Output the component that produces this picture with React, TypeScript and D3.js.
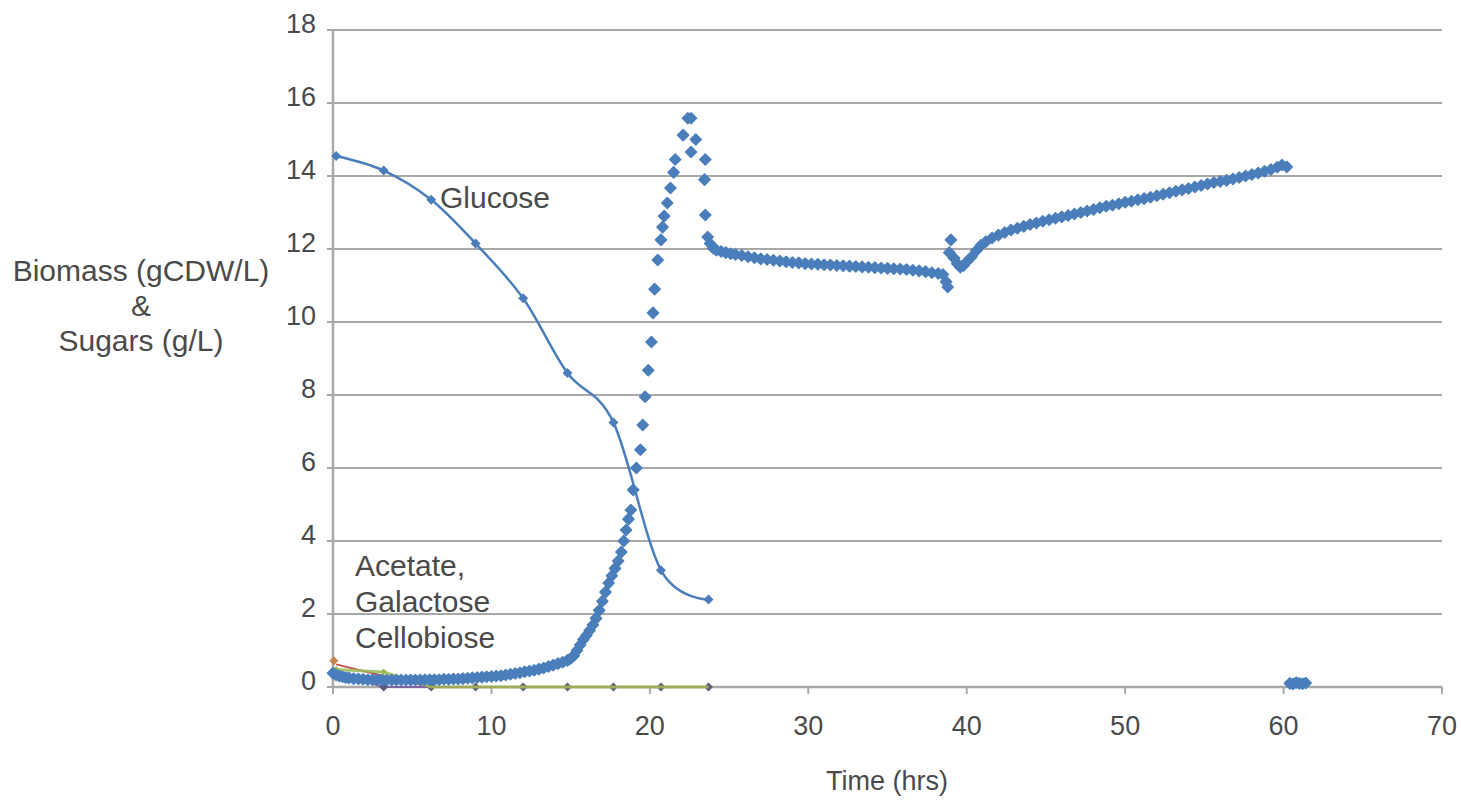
import React from "react";
import * as d3 from "d3";

// ---- data ----
const sampleTimes = [0.2, 3.2, 6.2, 9.0, 12.0, 14.8, 17.7, 20.7, 23.7];
const glucose = [14.55, 14.15, 13.35, 12.15, 10.65, 8.6, 7.25, 3.2, 2.4];
const acetate = [0.62, 0.3, 0, 0, 0, 0, 0, 0, 0];
const galactose = [0.48, 0.41, 0, 0, 0, 0, 0, 0, 0];
const cellobiose = [0.38, 0, 0, 0, 0, 0, 0, 0, 0];
const acetateStart = [0.05, 0.72];

const biomassTimes = [
  0.0, 0.2, 0.4, 0.6, 0.8, 1.0, 1.3, 1.6, 1.9, 2.2, 2.5, 2.8, 3.1, 3.4, 3.7, 4.0, 4.3, 4.6, 4.9, 5.2,
  5.5, 5.8, 6.1, 6.4, 6.7, 7.0, 7.3, 7.6, 7.9, 8.2, 8.5, 8.8, 9.1, 9.4, 9.7, 10.0, 10.3, 10.6, 10.9, 11.2,
  11.5, 11.8, 12.1, 12.4, 12.7, 13.0, 13.3, 13.6, 13.9, 14.2, 14.5, 14.8, 15.0, 15.2, 15.4, 15.6, 15.8, 16.0, 16.2, 16.4,
  16.6, 16.8, 17.0, 17.2, 17.4, 17.6, 17.8, 18.0, 18.2, 18.35, 18.5, 18.65, 18.8, 18.95, 19.15, 19.4, 19.55, 19.7, 19.9, 20.1,
  20.2, 20.3, 20.5, 20.7, 20.8, 20.9, 21.1, 21.3, 21.5, 21.6, 22.1, 22.4, 22.6, 22.6, 22.9, 23.45, 23.5, 23.5, 23.65, 23.8,
  24.0, 24.2, 24.5, 24.8, 25.1, 25.4, 25.8, 26.2, 26.6, 27.0, 27.4, 27.8, 28.2, 28.6, 29.0, 29.4, 29.8, 30.2, 30.6, 31.0,
  31.4, 31.8, 32.2, 32.6, 33.0, 33.4, 33.8, 34.2, 34.6, 35.0, 35.4, 35.8, 36.2, 36.6, 37.0, 37.4, 37.8, 38.2, 38.5, 38.7,
  38.8, 38.9, 39.0, 39.2, 39.4, 39.6, 39.8, 40.0, 40.3, 40.6, 40.9, 41.2, 41.6, 42.0, 42.4, 42.8, 43.2, 43.6, 44.0, 44.4,
  44.8, 45.2, 45.6, 46.0, 46.4, 46.8, 47.2, 47.6, 48.0, 48.4, 48.8, 49.2, 49.6, 50.0, 50.4, 50.8, 51.2, 51.6, 52.0, 52.4,
  52.8, 53.2, 53.6, 54.0, 54.4, 54.8, 55.2, 55.6, 56.0, 56.4, 56.8, 57.2, 57.6, 58.0, 58.4, 58.8, 59.2, 59.6, 59.9, 60.2,
  60.4, 60.6, 60.8, 61.0, 61.2, 61.4,
];
const biomass = [
  0.38, 0.33, 0.3, 0.28, 0.26, 0.25, 0.23, 0.22, 0.21, 0.2, 0.2, 0.2, 0.19, 0.19, 0.19, 0.19, 0.19, 0.19, 0.19, 0.19,
  0.19, 0.2, 0.2, 0.2, 0.2, 0.21, 0.21, 0.22, 0.22, 0.23, 0.24, 0.25, 0.26, 0.27, 0.28, 0.29, 0.3, 0.31, 0.33, 0.35,
  0.37, 0.39, 0.42, 0.44, 0.46, 0.49, 0.52, 0.56, 0.6, 0.64, 0.68, 0.73, 0.78, 0.86, 1.0, 1.15, 1.3, 1.42, 1.55, 1.7,
  1.88, 2.1, 2.35, 2.6, 2.85, 3.05, 3.25, 3.45, 3.7, 4.0, 4.3, 4.6, 4.85, 5.4, 6.0, 6.5, 7.18, 7.95, 8.68, 9.45,
  10.25, 10.9, 11.7, 12.25, 12.6, 12.9, 13.26, 13.67, 14.1, 14.45, 15.12, 15.58, 15.58, 14.66, 15.0, 13.9, 14.45, 12.93, 12.33, 12.15,
  12.02, 11.97, 11.93, 11.9, 11.87, 11.85, 11.82, 11.79, 11.76, 11.73, 11.71, 11.69, 11.67, 11.65, 11.63, 11.62, 11.6, 11.59, 11.58, 11.57,
  11.56, 11.55, 11.54, 11.53, 11.52, 11.51, 11.5, 11.49, 11.48, 11.47, 11.46, 11.45, 11.44, 11.42, 11.4, 11.38, 11.35, 11.33, 11.3, 11.1,
  10.96, 11.9, 12.25, 11.75, 11.6, 11.5, 11.55, 11.65, 11.78, 11.95, 12.1, 12.2, 12.3, 12.38, 12.45, 12.52, 12.57, 12.62, 12.67, 12.71,
  12.76, 12.8, 12.84, 12.88, 12.92, 12.96, 13.0, 13.04, 13.08, 13.13, 13.17, 13.2, 13.24, 13.28, 13.31, 13.35, 13.38, 13.42, 13.46, 13.5,
  13.54, 13.58, 13.62, 13.66, 13.7, 13.74, 13.78, 13.82, 13.85, 13.88, 13.92, 13.96, 14.0, 14.04, 14.08, 14.13, 14.18, 14.24, 14.3, 14.25,
  0.1, 0.08, 0.12, 0.1, 0.09, 0.11,
];

const xTicks = [0, 10, 20, 30, 40, 50, 60, 70];
const yTicks = [0, 2, 4, 6, 8, 10, 12, 14, 16, 18];
const yLabelLines = ["Biomass (gCDW/L)", "&", "Sugars (g/L)"];
const sugarLabelLines = ["Acetate,", "Galactose", "Cellobiose"];

// ---- layout ----
const W = 1461;
const H = 808;
const left = 333;
const right = 1442;
const top = 30;
const bottom = 687;

const BLUE = "#4a7ebb";
const RED = "#c0504d";
const GREEN = "#9bbb59";
const PURPLE = "#8064a2";
const TEXT = "#4a4a4a";
const GRID = "#a8a8a8";
const FONT = "'Liberation Sans', Arial, sans-serif";

const diamond = (r: number) => `M0,${-r}L${r},0L0,${r}L${-r},0Z`;

export default function App() {
  const x = d3.scaleLinear().domain([0, 70]).range([left, right]);
  const y = d3.scaleLinear().domain([0, 18]).range([bottom, top]);

  const glucoseLine = d3
    .line<number>()
    .x((_, i) => x(sampleTimes[i]))
    .y((d) => y(d))
    .curve(d3.curveCardinal.tension(0));

  const straight = (vals: number[]) =>
    d3
      .line<number>()
      .x((_, i) => x(sampleTimes[i]))
      .y((d) => y(d))(vals) || "";

  return (
    <svg
      width={W}
      height={H}
      style={{ position: "absolute", left: 0, top: 0, background: "#fff" }}
      fontFamily={FONT}
    >
      {/* grid lines */}
      {yTicks.map((t) => (
        <line key={"g" + t} x1={left} x2={right} y1={y(t)} y2={y(t)} stroke={GRID} strokeWidth={2} />
      ))}
      {/* y axis */}
      <line x1={left} x2={left} y1={top} y2={bottom} stroke={GRID} strokeWidth={2.5} />
      {yTicks.map((t) => (
        <line key={"yt" + t} x1={left - 6} x2={left} y1={y(t)} y2={y(t)} stroke={GRID} strokeWidth={2} />
      ))}
      {yTicks.map((t) => (
        <text key={"yl" + t} x={316} y={y(t) + 3} textAnchor="end" fontSize={27} fill={TEXT}>
          {t}
        </text>
      ))}
      {/* x axis */}
      <line x1={left} x2={right} y1={bottom} y2={bottom} stroke={GRID} strokeWidth={2.5} />
      {xTicks.map((t) => (
        <line key={"xt" + t} x1={x(t)} x2={x(t)} y1={bottom} y2={bottom + 7} stroke={GRID} strokeWidth={2} />
      ))}
      {xTicks.map((t) => (
        <text key={"xl" + t} x={x(t)} y={735} textAnchor="middle" fontSize={27} fill={TEXT}>
          {t}
        </text>
      ))}

      {/* minor sugars */}
      <path d={straight(cellobiose)} fill="none" stroke={PURPLE} strokeWidth={2} />
      {sampleTimes.map((t, i) => (
        <path key={"cb" + i} d={diamond(4.5)} transform={`translate(${x(t)},${y(cellobiose[i])})`} fill="#5a5e7c" />
      ))}
      <path d={straight(acetate)} fill="none" stroke={RED} strokeWidth={2} />
      <path d={straight(galactose)} fill="none" stroke={GREEN} strokeWidth={3} opacity={0.85} />
      {sampleTimes.map((t, i) =>
        i < 2 ? (
          <path key={"ga" + i} d={diamond(3.5)} transform={`translate(${x(t)},${y(galactose[i])})`} fill={GREEN} />
        ) : null
      )}
      <path d={diamond(4.5)} transform={`translate(${x(acetateStart[0])},${y(acetateStart[1])})`} fill="#c8804d" />

      {/* glucose */}
      <path d={glucoseLine(glucose) || ""} fill="none" stroke={BLUE} strokeWidth={2.5} />
      {sampleTimes.map((t, i) => (
        <path key={"gl" + i} d={diamond(5)} transform={`translate(${x(t)},${y(glucose[i])})`} fill={BLUE} />
      ))}

      {/* biomass */}
      {biomassTimes.map((t, i) => (
        <path
          key={"bm" + i}
          d={diamond(5.5)}
          transform={`translate(${x(t)},${y(biomass[i])})`}
          fill={BLUE}
          stroke={BLUE}
          strokeWidth={1.5}
          strokeLinejoin="round"
        />
      ))}

      {/* annotations */}
      <text x={440} y={208} fontSize={30} fill={TEXT}>
        Glucose
      </text>
      {sugarLabelLines.map((s, i) => (
        <text key={"sl" + i} x={355} y={576 + i * 36} fontSize={30} fill={TEXT}>
          {s}
        </text>
      ))}
      {yLabelLines.map((s, i) => (
        <text key={"ylab" + i} x={141} y={281 + i * 35} textAnchor="middle" fontSize={30} fill={TEXT}>
          {s}
        </text>
      ))}
      <text x={887} y={790} textAnchor="middle" fontSize={27} fill={TEXT}>
        Time (hrs)
      </text>
    </svg>
  );
}
